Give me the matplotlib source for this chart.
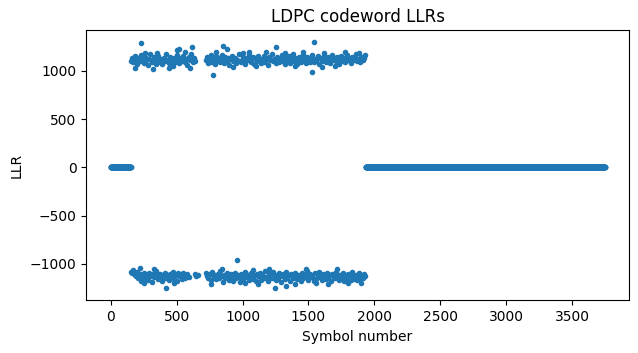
import matplotlib
matplotlib.use("Agg")
import matplotlib.pyplot as plt
import numpy as np

# symbol ranges whose LLR is 0 (start, stop)
zero_ranges = [(0, 152), (1935, 3750)]

# upper band (bit 0), sampled every 10 symbols
upper_left_span = (150, 640)
upper_left = [1105, 1130, 1088, 1150, 1112, 1072, 1135, 1098, 1160, 1120,
              1082, 1145, 1108, 1066, 1128, 1170, 1095, 1118, 1140, 1076,
              1110, 1158, 1090, 1125, 1068, 1135, 1102, 1180, 1115, 1084,
              1148, 1122, 1070, 1138, 1096, 1165, 1112, 1080, 1132, 1104,
              1155, 1088, 1126, 1062, 1142, 1110, 1175, 1094, 1130, 1100]
upper_right_span = (720, 1930)
upper_right = [1112, 1140, 1085, 1128, 1160, 1096, 1120, 1074, 1150, 1108,
               1135, 1090, 1168, 1115, 1078, 1145, 1102, 1130, 1062, 1124,
               1155, 1098, 1138, 1082, 1118, 1172, 1106, 1092, 1148, 1126,
               1070, 1135, 1110, 1162, 1088, 1120, 1142, 1076, 1132, 1100,
               1158, 1114, 1084, 1128, 1150, 1094, 1122, 1066, 1140, 1108,
               1170, 1098, 1126, 1080, 1146, 1116, 1090, 1136, 1160, 1104,
               1074, 1130, 1112, 1152, 1086, 1124, 1178, 1100, 1138, 1068,
               1120, 1144, 1094, 1130, 1160, 1106, 1082, 1142, 1118, 1096,
               1134, 1166, 1088, 1126, 1110, 1150, 1072, 1136, 1102, 1128,
               1156, 1092, 1118, 1140, 1080, 1124, 1168, 1108, 1132, 1098,
               1146, 1076, 1122, 1154, 1104, 1136, 1090, 1162, 1114, 1128,
               1084, 1148, 1110, 1138, 1170, 1100, 1126, 1092, 1144, 1118,
               1134, 1160]

# lower band (bit 1), sampled every 10 symbols
lower_left_span = (150, 590)
lower_left = [-1082, -1095, -1060, -1110, -1130, -1088, -1150, -1104, -1172, -1120,
              -1090, -1142, -1115, -1165, -1098, -1128, -1186, -1108, -1140, -1076,
              -1122, -1158, -1100, -1135, -1180, -1112, -1090, -1148, -1126, -1168,
              -1104, -1138, -1085, -1152, -1118, -1176, -1096, -1130, -1110, -1160,
              -1092, -1144, -1120, -1100, -1135]
lower_mid_span = (640, 660)
lower_mid = [-1105, -1130, -1115]
lower_right_span = (720, 1930)
lower_right = [-1098, -1125, -1150, -1108, -1170, -1086, -1135, -1118, -1160, -1100,
               -1142, -1078, -1128, -1185, -1112, -1150, -1094, -1138, -1165, -1104,
               -1122, -1176, -1090, -1146, -1116, -1132, -1188, -1100, -1158, -1124,
               -1084, -1140, -1110, -1170, -1096, -1134, -1152, -1118, -1180, -1102,
               -1128, -1092, -1162, -1114, -1144, -1078, -1136, -1174, -1106, -1120,
               -1150, -1088, -1130, -1166, -1112, -1142, -1096, -1184, -1124, -1104,
               -1156, -1082, -1138, -1118, -1172, -1100, -1146, -1126, -1090, -1160,
               -1110, -1134, -1180, -1094, -1148, -1116, -1130, -1076, -1164, -1106,
               -1140, -1122, -1178, -1098, -1152, -1114, -1086, -1136, -1168, -1108,
               -1126, -1158, -1092, -1144, -1118, -1182, -1102, -1132, -1150, -1080,
               -1124, -1166, -1110, -1140, -1094, -1176, -1120, -1148, -1100, -1134,
               -1162, -1088, -1128, -1156, -1112, -1170, -1096, -1142, -1118, -1150,
               -1106, -1130]

# band edge points (symbol, LLR)
edge_sym = [260, 350, 470, 560, 800, 930, 1000, 1050, 1100, 1180, 1320, 1400, 1460,
            1600, 1620, 1700, 1780, 1880,
            250, 330, 480, 760, 840, 1020, 1080, 1120, 1200, 1400, 1480, 1560, 1650,
            1720, 1800, 1900]
edge_llr = [1190, 1185, 1050, 1195, 1195, 1045, 1190, 1200, 1050, 1195, 1190, 1048, 1195,
            1045, 1190, 1050, 1192, 1185,
            -1195, -1050, -1200, -1205, -1055, -1200, -1060, -1210, -1050, -1205, -1055,
            -1200, -1210, -1052, -1200, -1195]

# stray points outside the bands (symbol, LLR)
outlier_sym = [185, 230, 320, 440, 500, 517, 600, 613, 775, 850, 880, 1250, 1530, 1540,
               220, 420, 960, 1245, 1330]
outlier_llr = [1030, 1288, 1018, 1035, 1215, 1226, 1025, 1247, 956, 1260, 1232, 1250, 985, 1295,
               -1045, -1245, -955, -1250, -1228]


def segment(span, values):
    return np.linspace(span[0], span[1], len(values)), np.array(values, dtype=float)


xs, ys = [], []
for a, b in zero_ranges:
    s = np.arange(a, b)
    xs.append(s)
    ys.append(np.zeros(len(s)))
for span, vals in [(upper_left_span, upper_left), (upper_right_span, upper_right),
                   (lower_left_span, lower_left), (lower_mid_span, lower_mid),
                   (lower_right_span, lower_right)]:
    x, y = segment(span, vals)
    xs.append(x)
    ys.append(y)
xs += [np.array(edge_sym), np.array(outlier_sym)]
ys += [np.array(edge_llr), np.array(outlier_llr)]

x = np.concatenate(xs)
y = np.concatenate(ys)

fig = plt.figure(figsize=(6.38, 3.53), dpi=100)
plt.subplots_adjust(left=0.135, right=0.986, bottom=0.149, top=0.914)
plt.plot(x, y, ".")
plt.xlim(-187, 3932)
plt.ylim(-1378, 1420)
plt.title("LDPC codeword LLRs")
plt.xlabel("Symbol number")
plt.ylabel("LLR")
plt.savefig("out.png", dpi=100)
